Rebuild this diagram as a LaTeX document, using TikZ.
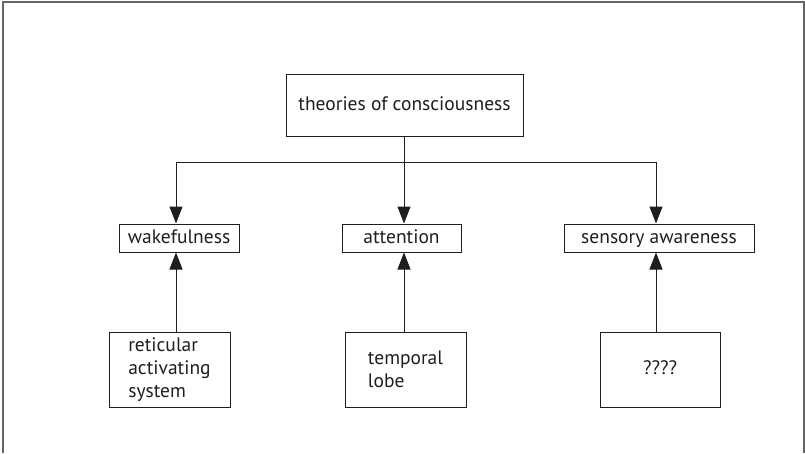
\documentclass[tikz,border=0pt]{standalone}
\usepackage{fontspec}
\setmainfont{PT Sans}
\usetikzlibrary{arrows.meta}
\definecolor{ink}{HTML}{1E1E1E}
\definecolor{framecol}{HTML}{666666}
\tikzset{
  box/.style={draw=ink, line width=1pt, rectangle, inner sep=0pt, text=ink,
    font=\fontsize{19.5}{23}\selectfont, align=left},
  single/.style={text height=14pt, text depth=4pt},
  conn/.style={draw=ink, line width=1pt},
  arr/.style={conn, -{Triangle[length=17pt,width=13pt]}},
}
\begin{document}
\begin{tikzpicture}[x=1pt,y=-1pt]
\useasboundingbox (0,0) rectangle (805,453);
\draw[framecol, line width=1.2pt] (3,453) -- (3,2) -- (804,2) -- (804,453);

\node[box, single, minimum width=237pt, minimum height=62pt] (top) at (404.5,105) {theories of consciousness};
\node[box, single, minimum width=120pt, minimum height=28pt] (wake) at (179,238) {wakefulness};
\node[box, single, minimum width=119pt, minimum height=28pt] (att) at (401.5,238) {attention};
\node[box, single, minimum width=190pt, minimum height=28pt] (sens) at (659,238) {sensory awareness};
\node[box, minimum width=121pt, minimum height=75pt] (ret) at (169.5,369.5) {reticular\\activating\\system};
\node[box, minimum width=121pt, minimum height=75pt] (temp) at (405.5,369.5) {temporal\\lobe};
\node[box, single, minimum width=120pt, minimum height=75pt] (q) at (660,369.5) {????};

\coordinate (jl) at (176,162);
\coordinate (jm) at (404,162);
\coordinate (jr) at (656,162);

\draw[conn] (top.south -| jm) -- (jm);
\draw[conn] (jl) -- (jr);
\draw[arr] (jl) -- (jl |- wake.north);
\draw[arr] (jm) -- (jm |- att.north);
\draw[arr] (jr) -- (jr |- sens.north);
\draw[arr] (jl |- ret.north) -- (jl |- wake.south);
\draw[arr] (jm |- temp.north) -- (jm |- att.south);
\draw[arr] (jr |- q.north) -- (jr |- sens.south);
\end{tikzpicture}
\end{document}
